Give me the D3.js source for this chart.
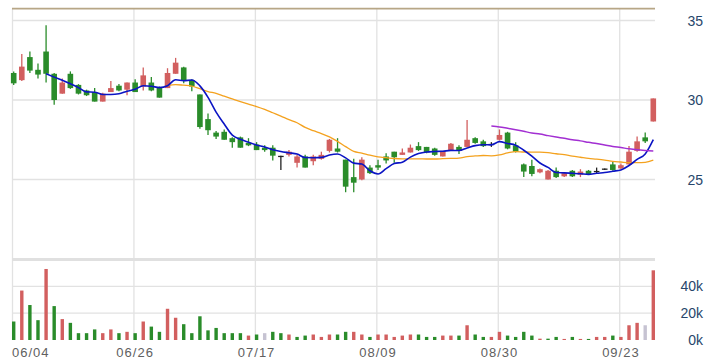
<!DOCTYPE html>
<html><head><meta charset="utf-8">
<script src="https://cdn.jsdelivr.net/npm/d3@7"></script>
<style>body{margin:0;background:#fff}svg{display:block}</style>
</head><body><svg id="c" width="713" height="360"></svg>
<script>
const dates = ["06/04","06/05","06/06","06/07","06/11","06/12","06/13","06/14","06/17","06/18","06/19","06/20","06/21","06/24","06/25","06/26",
"06/27","06/28","07/01","07/02","07/03","07/04","07/05","07/08","07/09","07/10","07/11","07/12","07/15","07/16","07/17",
"07/18","07/19","07/22","07/23","07/26","07/29","07/30","07/31","08/01","08/02","08/05","08/06","08/07","08/08","08/09",
"08/12","08/13","08/14","08/15","08/16","08/19","08/20","08/21","08/22","08/23","08/26","08/27","08/28","08/29","08/30",
"09/02","09/03","09/04","09/05","09/06","09/09","09/10","09/11","09/12","09/13","09/16","09/18","09/19","09/20","09/23",
"09/24","09/25","09/26","09/27"];
const open = [31.70,31.25,32.70,31.90,33.05,31.65,30.40,31.65,30.95,30.60,30.50,29.90,30.50,30.90,30.65,31.10,30.85,31.10,30.80,30.75,
31.65,32.05,31.25,30.35,28.80,27.95,28.00,27.60,27.65,27.30,27.20,27.00,27.00,26.45,26.55,26.05,26.45,26.15,26.30,26.80,
26.95,26.25,25.15,25.00,25.75,25.90,26.45,26.75,26.55,26.70,27.10,27.05,26.95,26.45,26.85,27.05,27.05,27.60,27.40,27.20,
27.50,27.95,27.15,25.95,25.85,25.45,25.00,25.55,25.20,25.55,25.30,25.55,25.50,25.65,25.95,25.70,25.95,26.80,27.65,28.65];
const high = [31.80,32.90,33.05,32.30,34.70,31.70,31.35,31.80,31.00,30.65,30.75,30.45,31.20,31.00,31.10,31.30,32.05,31.45,30.85,32.00,
32.65,32.10,31.30,30.35,29.15,28.05,28.15,27.65,27.70,27.60,27.35,27.15,27.15,26.50,26.85,26.55,26.55,26.55,26.75,27.55,
27.60,26.25,26.30,26.40,25.90,26.25,26.65,26.75,26.95,27.20,27.35,27.05,27.00,26.80,27.30,27.15,28.75,27.65,27.50,27.35,
28.15,28.00,27.35,26.00,26.25,25.70,25.60,25.75,25.45,25.60,25.65,25.60,25.75,25.70,26.10,26.00,27.10,27.70,27.95,30.10];
const low = [30.95,31.20,31.70,31.35,31.10,29.70,30.40,30.70,30.35,30.25,29.90,29.90,30.50,30.55,30.30,30.50,30.60,30.55,30.15,30.75,
31.65,31.05,30.55,28.20,27.80,27.55,27.50,27.00,27.00,27.10,26.85,26.75,26.20,25.60,26.45,25.75,25.75,25.90,26.25,26.70,
26.70,24.20,24.20,24.95,25.35,25.60,26.00,26.05,26.55,26.70,26.80,26.65,26.50,26.45,26.85,26.60,27.05,27.25,27.05,27.05,
27.45,26.90,26.70,25.15,25.20,25.40,25.00,25.10,25.15,25.15,25.15,25.30,25.40,25.60,25.55,25.65,25.95,26.75,27.30,28.65];
const close = [31.05,32.10,31.85,31.60,31.65,30.00,31.10,30.75,30.40,30.30,29.90,30.40,30.75,30.60,31.10,30.50,31.55,30.60,30.15,31.70,
32.35,31.25,30.85,28.30,28.10,27.70,27.50,27.35,27.00,27.15,26.85,26.85,26.50,26.45,26.75,26.45,25.75,26.45,26.55,27.50,
26.75,24.55,24.80,26.25,25.40,25.75,26.20,26.40,26.70,27.00,26.85,26.70,26.55,26.80,27.25,26.80,27.50,27.30,27.10,27.20,
27.80,26.95,26.75,25.50,25.35,25.65,25.55,25.15,25.40,25.20,25.50,25.35,25.50,25.65,25.60,25.90,26.75,27.40,27.40,30.10];
const volume = [13800,36900,26100,14800,53000,25300,15600,12800,5100,5100,7900,5100,7900,5100,6100,5100,13800,10000,6100,23300,
16600,11800,5100,17700,7200,9000,5100,5100,5100,3300,4100,5100,6100,5100,4100,2300,3300,4100,2300,4100,
4100,6100,6100,4100,2300,4100,4100,2300,3300,4100,4100,2300,2300,3300,3300,3300,11000,4100,2300,2300,
6100,3300,2300,6100,3300,1000,1000,2300,800,2300,800,800,2300,2300,3300,2300,11000,12800,11000,52000];
// price change vs previous close: 1 up, -1 down, 0 unchanged
const change = [-1,1,-1,-1,1,-1,1,-1,-1,-1,-1,1,1,-1,1,-1,1,-1,-1,1,
1,-1,-1,-1,-1,-1,-1,-1,-1,1,-1,0,-1,-1,1,-1,-1,1,1,1,
-1,-1,1,1,-1,1,1,1,1,1,-1,-1,-1,1,1,-1,1,-1,-1,1,
1,-1,-1,-1,-1,1,-1,-1,1,-1,1,-1,1,1,-1,1,1,1,0,1];
const ma5 = [null,null,null,null,31.65,31.44,31.24,31.02,30.78,30.51,30.49,30.35,30.35,30.39,30.55,30.67,30.90,30.87,30.78,30.90,
31.27,31.21,31.26,30.89,30.17,29.24,28.49,27.79,27.53,27.34,27.17,27.04,26.87,26.76,26.68,26.60,26.38,26.37,26.39,26.54,
26.60,26.36,26.03,25.97,25.55,25.35,25.68,26.00,26.09,26.41,26.63,26.73,26.76,26.78,26.83,26.82,26.98,27.13,27.19,27.18,
27.38,27.27,27.16,26.84,26.47,26.04,25.76,25.44,25.42,25.39,25.36,25.32,25.39,25.44,25.52,25.60,25.88,26.26,26.61,27.51];
const ma20 = [null,null,null,null,null,null,null,null,null,null,null,null,null,null,null,null,null,null,null,30.90,
30.97,30.93,30.88,30.71,30.53,30.42,30.24,30.07,29.90,29.74,29.59,29.41,29.20,28.99,28.77,28.57,28.28,28.07,27.89,27.68,
27.40,27.07,26.77,26.66,26.53,26.43,26.37,26.32,26.30,26.30,26.30,26.29,26.29,26.31,26.33,26.35,26.44,26.48,26.51,26.49,
26.55,26.67,26.76,26.73,26.72,26.72,26.69,26.62,26.56,26.47,26.40,26.33,26.28,26.22,26.14,26.10,26.06,26.06,26.08,26.22];
const ma60 = [28.36,28.31,28.22,28.13,28.03,27.93,27.86,27.76,27.67,27.59,27.50,27.43,27.34,27.26,27.17,27.08,27.01,26.93,26.87,26.83,26.80];
const ma60Start = 59;
const dateTicks = ["06/04","06/26","07/17","08/09","08/30","09/23"];
const priceTicks = [25,30,35];
const volTicks = [0,20000,40000];

const svg = d3.select("#c");
svg.append("rect").attr("width",713).attr("height",360).attr("fill","#fff");
const RED = "#d25f5f", GREEN = "#2a8c2a", FLAT = "#c6c3d2", DOJI = "#222";
const L = 12, R = 655;
const x = d3.scalePoint().domain(dates).range([13.7, 653.3]);
const y = d3.scaleLinear().domain([20, 35.8]).range([259, 7.8]);
const yv = d3.scaleLinear().domain([0, 60000]).range([340, 259.6]);

const g = svg.append("g");
// horizontal grid (price)
g.selectAll(".hp").data(priceTicks).join("line")
  .attr("x1",L).attr("x2",R).attr("y1",d=>y(d)).attr("y2",d=>y(d))
  .attr("stroke","#e2e2e2").attr("stroke-width",1.3);
g.selectAll(".hv").data(volTicks.filter(d=>d>0)).join("line")
  .attr("x1",L).attr("x2",R).attr("y1",d=>yv(d)).attr("y2",d=>yv(d))
  .attr("stroke","#e2e2e2").attr("stroke-width",1.3);
// vertical grid
g.selectAll(".vg").data(dateTicks).join("line")
  .attr("x1",d=>x(d)-1.2).attr("x2",d=>x(d)-1.2).attr("y1",y(35.75)).attr("y2",340)
  .attr("stroke","#e2e2e2").attr("stroke-width",1.3);
// separator band
g.append("line").attr("x1",L).attr("x2",R).attr("y1",259.5).attr("y2",259.5)
  .attr("stroke","#e0e0e0").attr("stroke-width",3);
// top reference line
g.append("line").attr("x1",L).attr("x2",R).attr("y1",y(35.75)).attr("y2",y(35.75))
  .attr("stroke","#b7a686").attr("stroke-width",1.8);

// volume bars
const vw = 3.4;
g.selectAll(".vb").data(dates).join("rect")
  .attr("x",(d,i)=>x(d)-vw/2).attr("width",vw)
  .attr("y",(d,i)=>yv(volume[i])).attr("height",(d,i)=>340-yv(volume[i]))
  .attr("fill",(d,i)=>change[i]>0?RED:change[i]<0?GREEN:FLAT);

// candles
const bw = 5.6;
const cg = g.append("g");
dates.forEach((d,i)=>{
  const o=open[i], c=close[i];
  const col = c>o?RED:c<o?GREEN:DOJI;
  const cx = x(d);
  cg.append("line").attr("x1",cx).attr("x2",cx).attr("y1",y(high[i])).attr("y2",y(low[i]))
    .attr("stroke",col).attr("stroke-width",1.3);
  if (c===o) {
    cg.append("line").attr("x1",cx-bw/2).attr("x2",cx+bw/2).attr("y1",y(c)).attr("y2",y(c))
      .attr("stroke",col).attr("stroke-width",1.3);
  } else {
    const top=y(Math.max(o,c)), bot=y(Math.min(o,c));
    cg.append("rect").attr("x",cx-bw/2).attr("width",bw).attr("y",top).attr("height",Math.max(1,bot-top)).attr("fill",col);
  }
});

// moving averages
const line = d3.line().defined(d=>d.v!=null).x(d=>x(d.d)).y(d=>y(d.v)).curve(d3.curveMonotoneX);
g.append("path").datum(dates.map((d,i)=>({d,v:ma20[i]})))
  .attr("d",line).attr("fill","none").attr("stroke","#f4a21f").attr("stroke-width",1.3);
g.append("path").datum(dates.map((d,i)=>({d,v:ma5[i]})))
  .attr("d",line).attr("fill","none").attr("stroke","#0b14c4").attr("stroke-width",1.6);
g.append("path").datum(ma60.map((v,k)=>({d:dates[ma60Start+k],v})))
  .attr("d",line).attr("fill","none").attr("stroke","#a22fd2").attr("stroke-width",1.5);

// axes labels
const font = "'Liberation Sans', Arial, sans-serif";
g.selectAll(".pl").data(priceTicks).join("text")
  .attr("x",703).attr("y",d=>y(d)).attr("dy","0.36em").attr("text-anchor","end")
  .attr("font-family",font).attr("font-size",14).attr("fill","#27466b").text(d=>d);
g.selectAll(".vl").data(volTicks).join("text")
  .attr("x",703).attr("y",d=>yv(d)).attr("dy","0.36em").attr("text-anchor","end")
  .attr("font-family",font).attr("font-size",14).attr("fill","#27466b").text(d=>d/1000+"k");
g.selectAll(".dl").data(dateTicks).join("text")
  .attr("y",357).attr("font-family",font).attr("font-size",13).attr("letter-spacing","1px")
  .attr("fill","#606060").text(d=>d)
  .each(function(d){
    const w=this.getComputedTextLength();
    const cx=Math.max(x(d), L+w/2);
    d3.select(this).attr("x",cx).attr("text-anchor","middle");
  });
</script></body></html>
